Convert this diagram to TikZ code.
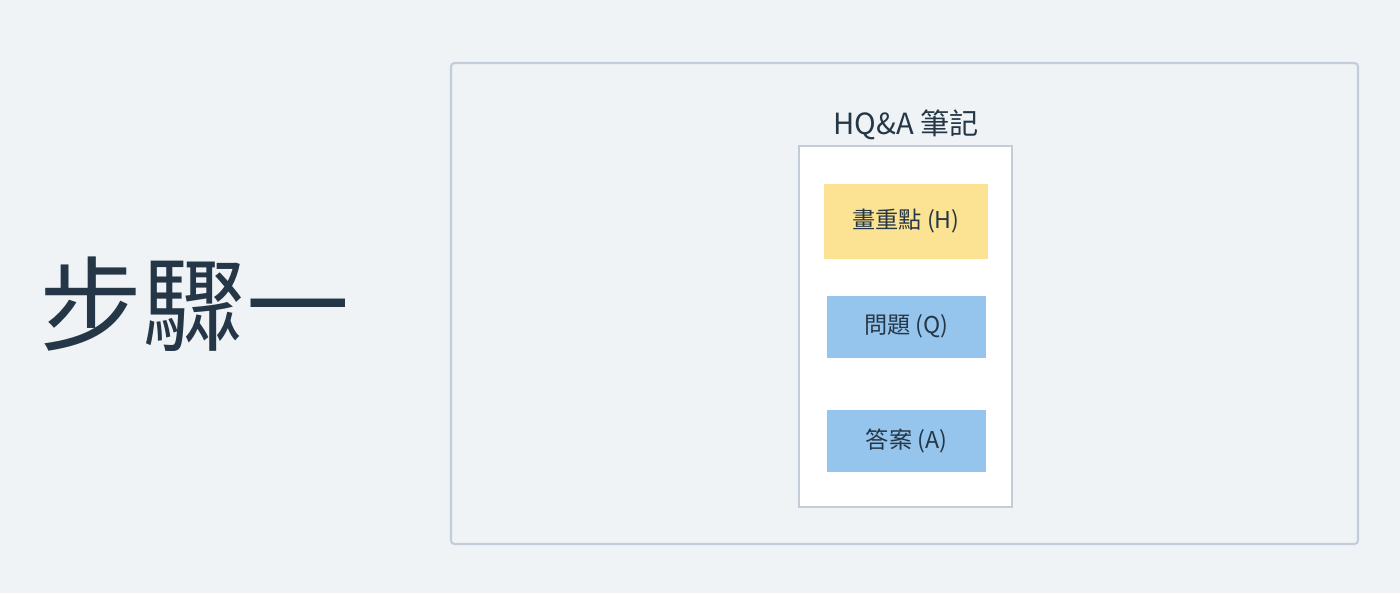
\documentclass[tikz,border=0pt]{standalone}
\usepackage{fontspec}
\setmainfont{Noto Sans CJK TC}
\usetikzlibrary{positioning}
\definecolor{bgcol}{HTML}{EFF3F6}
\definecolor{framecol}{HTML}{C3CDD8}
\definecolor{inkcol}{HTML}{253746}
\definecolor{hcol}{HTML}{FCE293}
\definecolor{qacol}{HTML}{95C4EC}
\tikzset{
    outerbox/.style = {draw=framecol, line width=1.2pt, fill=bgcol, rounded corners=2pt},
    notebox/.style = {draw=framecol, line width=1.2pt, fill=white},
    notetitle/.style = {text=inkcol, font=\fontsize{16.6}{19}\selectfont, inner sep=0pt},
    hbox/.style = {fill=hcol, text=inkcol, font=\fontsize{13.2}{15}\selectfont, minimum width=164*0.02cm, minimum height=75*0.02cm, inner sep=0pt},
    qabox/.style = {fill=qacol, text=inkcol, font=\fontsize{13.2}{15}\selectfont, minimum width=159*0.02cm, minimum height=62*0.02cm, inner sep=0pt},
    bigtitle/.style = {text=inkcol, font=\fontsize{58.7}{64}\selectfont, inner sep=0pt}
}
\begin{document}
\begin{tikzpicture}[x=0.02cm, y=-0.02cm]
    \fill[bgcol] (0,0) rectangle (1400,593);
    \useasboundingbox (0,0) rectangle (1400,593);

    % step label
    \node[bigtitle] (step) at (194.5,304) {步驟一};

    % outer frame and note
    \draw[outerbox] (451,63) rectangle (1358,544);
    \draw[notebox] (799,146) rectangle (1012,507);
    \node[notetitle] (title) at (906,125) {HQ\&A 筆記};

    \node[hbox] (H) at (906,221.5) {畫重點 (H)};
    \node[qabox] (Q) at (906.5,326.5) {問題 (Q)};
    \node[qabox] (A) at (906.5,441) {答案 (A)};
\end{tikzpicture}
\end{document}
